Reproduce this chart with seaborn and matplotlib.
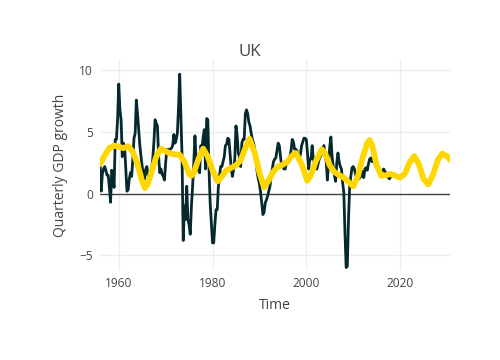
import matplotlib
matplotlib.use("Agg")
import matplotlib.pyplot as plt
import seaborn as sns
import numpy as np
import pandas as pd

# Quarterly GDP growth, quarters from 1956Q1
gdp_start = 1956.0
gdp_values = [
    2.8, 0.2, 1.6, 2.0,      # 1956
    2.2, 1.9, 1.5, 1.5,      # 1957
    0.5, -0.7, 1.9, 1.5,     # 1958
    0.5, 4.4, 4.4, 6.0,      # 1959
    8.9, 6.8, 6.0, 3.0,      # 1960
    4.1, 3.8, 2.0, 0.2,      # 1961
    0.3, 1.2, 1.7, 1.4,      # 1962
    2.8, 4.5, 4.9, 7.6,      # 1963
    6.5, 5.2, 3.9, 3.0,      # 1964
    2.2, 1.5, 1.2, 2.0,      # 1965
    2.2, 1.5, 1.2, 1.6,      # 1966
    2.0, 2.8, 4.2, 6.0,      # 1967
    5.7, 5.5, 3.0, 1.7,      # 1968
    2.0, 1.6, 1.4, 1.1,      # 1969
    2.5, 3.6, 3.4, 3.6,      # 1970
    3.6, 3.7, 3.9, 4.8,      # 1971
    4.1, 4.4, 4.9, 7.0,      # 1972
    9.7, 6.5, 3.0, -3.8,     # 1973
    -1.0, -2.1, 0.6, -2.1,   # 1974
    -2.5, -3.3, -1.0, 0.6,   # 1975
    2.5, 4.7, 2.8, 2.2,      # 1976
    1.9, 1.7, 3.9, 3.6,      # 1977
    4.6, 5.2, 2.0, 6.1,      # 1978
    6.0, 2.0, -0.8, -2.4,    # 1979
    -4.0, -4.0, -2.5, -1.3,  # 1980
    -1.3, 0.6, 1.5, 2.2,     # 1981
    2.2, 2.6, 3.0, 3.9,      # 1982
    4.0, 4.5, 4.4, 3.2,      # 1983
    2.0, 1.4, 2.0, 2.8,      # 1984
    5.5, 4.7, 3.3, 3.0,      # 1985
    2.2, 4.1, 4.4, 4.4,      # 1986
    6.5, 6.8, 6.5, 5.8,      # 1987
    5.5, 4.9, 4.4, 4.1,      # 1988
    3.6, 3.0, 1.8, 1.2,      # 1989
    0.8, 0.1, -0.75, -1.7,   # 1990
    -1.5, -0.75, -0.5, -0.2, # 1991
    0.2, 0.6, 1.5, 2.0,      # 1992
    2.6, 2.8, 2.9, 3.5,      # 1993
    4.1, 3.9, 3.0, 2.2,      # 1994
    2.2, 2.0, 2.0, 2.5,      # 1995
    2.5, 2.8, 3.0, 3.5,      # 1996
    4.4, 4.2, 3.6, 3.6,      # 1997
    3.5, 3.2, 2.8, 3.2,      # 1998
    3.9, 4.2, 4.5, 4.5,      # 1999
    4.4, 3.3, 2.0, 2.8,      # 2000
    2.8, 3.9, 2.8, 2.5,      # 2001
    2.2, 2.0, 2.4, 2.8,      # 2002
    3.0, 3.2, 3.6, 3.9,      # 2003
    3.2, 2.6, 1.1, 2.5,      # 2004
    3.8, 4.6, 3.0, 2.2,      # 2005
    1.5, 1.0, 2.5, 3.3,      # 2006
    2.6, 2.2, 2.0, 0.9,      # 2007
    0.1, -3.2, -6.0, -5.9,   # 2008
    -2.1, 0.6, 1.4, 2.1,     # 2009
    2.2, 2.0, 1.6, 1.2,      # 2010
    1.5, 1.2, 1.6, 1.4,      # 2011
    1.8, 1.3, 2.0, 2.1,      # 2012
    1.9, 2.4, 2.8, 2.9,      # 2013
    2.6, 2.9, 2.6, 2.3,      # 2014
    2.1, 2.0, 1.7, 1.8,      # 2015
    1.7, 1.86, 2.0, 1.8,     # 2016
    1.7, 1.5, 1.3, 1.2,      # 2017
    1.4, 1.5, 1.45, 1.6,     # 2018
    1.5,                     # 2019
]

# Smoothed / forecast component
trend_years = [1956.0, 1957.0, 1958.0, 1959.0, 1960.0, 1961.0, 1962.0, 1963.0, 1964.0, 1965.0,
               1965.6, 1966.2, 1967.0, 1968.0, 1969.0, 1970.0, 1971.0, 1972.0, 1973.0, 1974.0,
               1975.0, 1975.5, 1976.0, 1977.0, 1978.0, 1979.0, 1980.0, 1981.1, 1982.0, 1983.0,
               1984.0, 1985.0, 1986.0, 1987.0, 1987.9, 1989.0, 1990.0, 1991.0, 1992.0, 1993.0,
               1994.0, 1995.0, 1996.0, 1997.0, 1997.8, 1999.0, 2000.2, 2001.0, 2002.0, 2003.3,
               2004.0, 2005.0, 2006.0, 2007.0, 2008.0, 2009.0, 2010.0, 2011.0, 2012.0, 2013.0,
               2013.5, 2014.0, 2015.0, 2016.0, 2017.0, 2018.0, 2019.0, 2020.0, 2021.0, 2022.0,
               2023.0, 2024.0, 2025.0, 2026.0, 2027.0, 2028.0, 2029.0, 2030.0, 2030.7]
trend_values = [2.4, 3.1, 3.7, 3.9, 3.8, 3.7, 3.85, 3.4, 2.4, 1.0,
                0.45, 0.8, 1.8, 3.0, 3.65, 3.45, 3.25, 3.2, 3.15, 2.6,
                1.6, 1.45, 1.7, 2.8, 3.65, 3.0, 1.9, 1.0, 1.4, 1.9,
                2.1, 2.3, 2.7, 3.7, 4.45, 3.3, 1.7, 0.5, 1.1, 1.8,
                2.2, 2.35, 2.6, 3.1, 3.3, 2.4, 1.05, 1.5, 2.6, 3.6,
                3.3, 2.3, 1.75, 1.5, 1.3, 0.95, 0.6, 1.4, 2.9, 4.1,
                4.35, 4.0, 2.3, 1.45, 1.5, 1.6, 1.45, 1.3, 1.6, 2.5,
                3.05, 2.4, 1.2, 0.75, 1.5, 2.7, 3.25, 3.05, 2.75]

x_ticks = [1960, 1980, 2000, 2020]
y_ticks = [-5, 0, 5, 10]

gdp_df = pd.DataFrame({
    "Time": gdp_start + 0.25 * np.arange(len(gdp_values)),
    "growth": gdp_values,
})
trend_df = pd.DataFrame({"Time": trend_years, "growth": trend_values})

sns.set_theme(style="white")
plt.rcParams["font.family"] = ["Open Sans", "DejaVu Sans"]

fig = plt.figure(figsize=(5, 3.6), dpi=100)
ax = fig.add_axes([100 / 500, 90 / 360, 350 / 500, 210 / 360])

ax.grid(True, color="#eeeeee", linewidth=1)
ax.set_axisbelow(True)
ax.axhline(0, color="#444444", linewidth=1, zorder=1)

sns.lineplot(data=gdp_df, x="Time", y="growth", ax=ax, color="#05292d",
             linewidth=2, zorder=3, estimator=None)
sns.lineplot(data=trend_df, x="Time", y="growth", ax=ax, color="#FFD700",
             linewidth=4.2, zorder=4, estimator=None,
             solid_joinstyle="round", solid_capstyle="round")

ax.set_xlim(1956.0, 2030.65)
ax.set_ylim(-6.2, 10.85)
ax.set_xticks(x_ticks)
ax.set_yticks(y_ticks)
ax.set_yticklabels(["\u22125", "0", "5", "10"])
for s in ax.spines.values():
    s.set_visible(False)
ax.tick_params(axis="both", length=0, labelsize=8.6, colors="#444444", pad=5)

ax.set_xlabel("Time", fontsize=10, color="#444444", labelpad=6)
ax.set_ylabel("Quarterly GDP growth", fontsize=10, color="#444444", labelpad=8)
fig.text(0.5, 1 - 52 / 360, "UK", ha="center", va="center", fontsize=12.2, color="#444444")

fig.savefig("out.png", dpi=100)
